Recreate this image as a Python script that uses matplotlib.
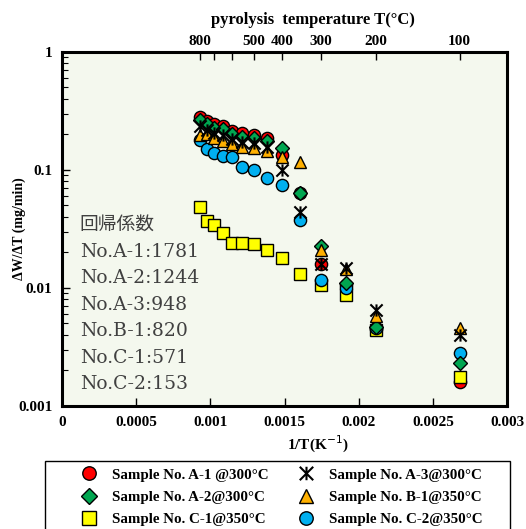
import numpy as np
import matplotlib
matplotlib.use("Agg")
import matplotlib.pyplot as plt
from matplotlib.path import Path
from matplotlib.patches import Rectangle

# pyrolysis temperatures (deg C) of the measured points
temps = [800, 750, 700, 650, 600, 550, 500, 450, 400, 350, 300, 250, 200, 100]

# dW/dT (mg/min)
a1 = [0.281, 0.260, 0.245, 0.236, 0.214, 0.206, 0.198, 0.187, 0.134, 0.0638, 0.0160, 0.0106, 0.00449, 0.00160]
a2 = [0.265, 0.245, 0.227, 0.223, 0.202, 0.191, 0.187, 0.176, 0.154, 0.0638, 0.0227, 0.0110, 0.00467, 0.00231]
a3 = [0.236, 0.218, 0.206, 0.198, 0.183, 0.173, 0.169, 0.157, 0.100, 0.0441, 0.0160, 0.0148, 0.00651, 0.00400]
b1 = [0.198, 0.202, 0.187, 0.176, 0.166, 0.157, 0.154, 0.145, 0.129, 0.117, 0.0210, 0.0145, 0.00579, 0.00458]
c1 = [0.0486, 0.0370, 0.0342, 0.0292, 0.0241, 0.0241, 0.0236, 0.0210, 0.0180, 0.0131, 0.0106, 0.00873, 0.00441, 0.00176]
c2 = [0.180, 0.151, 0.139, 0.131, 0.129, 0.106, 0.100, 0.0855, 0.0746, 0.0377, 0.0117, 0.0100, 0.00458, 0.00281]

coef_lines = ["回帰係数", "No.A-1:1781", "No.A-2:1244", "No.A-3:948",
              "No.B-1:820", "No.C-1:571", "No.C-2:153"]

top_temps = [800, 700, 600, 500, 400, 300, 200, 100]
top_labels = ["800", "", "", "500", "400", "300", "200", "100"]

x_ticks = [0, 0.0005, 0.001, 0.0015, 0.002, 0.0025, 0.003]
x_labels = ["0", "0.0005", "0.001", "0.0015", "0.002", "0.0025", "0.003"]

invT = [1.0 / (t + 273.15) for t in temps]

serif = ["Liberation Serif", "DejaVu Serif"]
plt.rcParams['font.family'] = serif

# zhe-like marker for A-3
zhe = Path([(-1, -1), (1, 1), (-1, 1), (1, -1), (0, -1), (0, 1)],
           [Path.MOVETO, Path.LINETO, Path.MOVETO, Path.LINETO, Path.MOVETO, Path.LINETO])

fig = plt.figure(figsize=(5.26, 5.29), dpi=100)
ax = fig.add_axes([0.118, 0.2325, 0.846, 0.6695])
ax.set_facecolor("#f4f8ee")

ms = 8.8
h_a1, = ax.plot(invT, a1, "o", ms=ms, mfc="#ff0000", mec="black", mew=1.0, zorder=3,
                label="Sample No. A-1 @300°C")
h_c1, = ax.plot(invT, c1, "s", ms=ms, mfc="#ffff00", mec="black", mew=1.0, zorder=4,
                label="Sample No. C-1@350°C")
h_c2, = ax.plot(invT, c2, "o", ms=ms, mfc="#00b0f0", mec="black", mew=1.0, zorder=5,
                label="Sample No. C-2@350°C")
h_a2, = ax.plot(invT, a2, "D", ms=ms * 0.8, mfc="#00a650", mec="black", mew=1.0, zorder=6,
                label="Sample No. A-2@300°C")
h_b1, = ax.plot(invT, b1, "^", ms=ms, mfc="#ffb000", mec="black", mew=1.0, zorder=7,
                label="Sample No. B-1@350°C")
h_a3, = ax.plot(invT, a3, ls="none", marker=zhe, ms=ms, mfc="none", mec="black", mew=1.5, zorder=8,
                label="Sample No. A-3@300°C")

ax.set_yscale("log")
ax.set_xlim(0, 0.003)
ax.set_ylim(0.001, 1)
ax.set_xticks(x_ticks)
ax.set_xticklabels(x_labels)
ax.set_yticks([0.001, 0.01, 0.1, 1])
ax.set_yticklabels(["0.001", "0.01", "0.1", "1"])
ax.tick_params(axis="both", which="both", direction="in", labelsize=11, pad=7)
ax.tick_params(axis="x", length=6, width=1)
ax.tick_params(axis="y", which="major", length=6, width=1, right=False)
ax.tick_params(axis="y", which="minor", length=4, width=0.8, right=False)
for lab in ax.get_xticklabels() + ax.get_yticklabels():
    lab.set_fontweight("bold")
for sp in ax.spines.values():
    sp.set_linewidth(2.2)

ax.set_xlabel("1/T(K$^{-1}$)", fontsize=11, fontweight="bold")
ax.xaxis.set_label_coords(0.575, -0.08)
ax.set_ylabel("ΔW/ΔT (mg/min)", fontsize=10, fontweight="bold")
ax.yaxis.set_label_coords(-0.08, 0.5)

ax2 = ax.twiny()
ax2.set_xlim(0, 0.003)
ax2.set_xticks([1.0 / (t + 273.15) for t in top_temps])
ax2.set_xticklabels(top_labels)
ax2.tick_params(axis="x", direction="in", length=6, width=1, labelsize=11, pad=3)
for lab in ax2.get_xticklabels():
    lab.set_fontweight("bold")
ax2.set_xlabel("pyrolysis  temperature T(°C)", fontsize=12, fontweight="bold")
ax2.xaxis.set_label_coords(0.564, 1.08)

for i, s in enumerate(coef_lines):
    ax.text(0.04, 0.511 - i * 0.0749, s, transform=ax.transAxes, fontsize=13.5,
            color="#404040", family=["DejaVu Serif", "Noto Sans CJK JP"], va="center")

# legend box
fig.patches.append(Rectangle((45 / 526, -0.02), 465 / 526, 0.02 + 68 / 529,
                             transform=fig.transFigure, fill=False,
                             edgecolor="black", linewidth=1.0))

handles = [h_a1, h_a2, h_c1, h_a3, h_b1, h_c2]
leg = fig.legend(handles=handles, loc="upper left", ncol=2,
                 bbox_to_anchor=(78 / 526, 1 - 468 / 529), frameon=False,
                 prop={"weight": "bold", "size": 10.8}, borderaxespad=0, borderpad=0,
                 handlelength=1.4, handletextpad=0.85, labelspacing=0.6, columnspacing=1.8,
                 markerscale=1.1)

fig.savefig("out.png", dpi=100)
